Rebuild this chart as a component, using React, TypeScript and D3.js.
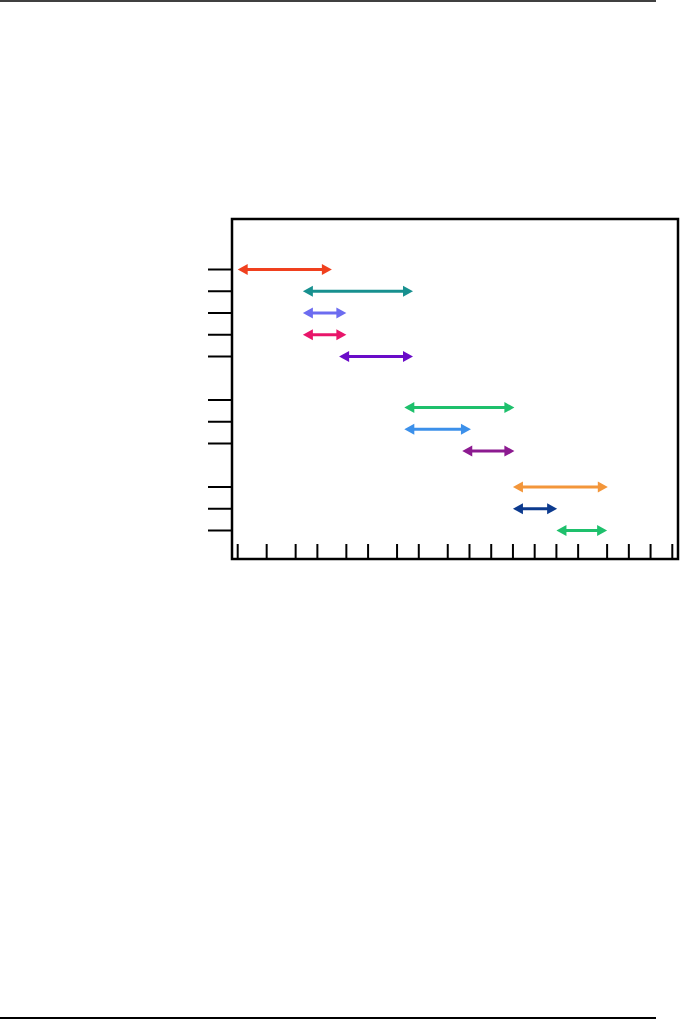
import React from "react";
import * as d3 from "d3";

// Task rows (position on the vertical axis, in row units)
const rowPosition = [0, 1, 2, 3, 4, 6.35, 7.35, 8.35, 10, 11, 12];
const startValues = [0, 9, 9, 9, 14, 23, 23, 31, 38, 38, 44];
const endValues = [13, 24.2, 15, 15, 24.2, 38.2, 32.2, 38.2, 51.1, 44.1, 51];
const arrowColors = [
  "#f0401e", "#17908f", "#6c6cf0", "#e8156a", "#6a0cc8",
  "#1ec06c", "#3c90ea", "#8c1a90", "#f3963a", "#0c3a8e", "#1ec06c",
];
// Y tick rows
const yTickRows = [0, 1, 2, 3, 4, 6, 7, 8, 10, 11, 12];
// X tick values (irregular)
const xTickValues = [0, 4, 8, 11, 15, 18, 22, 25, 29, 32, 35, 38, 41, 44, 47, 51, 54, 57, 60];

export default function App() {
  const W = 681, H = 1020;
  const box = { left: 232, top: 219, right: 678, bottom: 559 };
  const x = d3.scaleLinear().domain([0, 60]).range([237.7, 672.3]);
  const y = d3.scaleLinear().domain([0, 12]).range([269.5, 530.5]);
  const head = 10;
  const headHalf = 5.5;

  return (
    <svg
      width={W}
      height={H}
      style={{ position: "absolute", left: 0, top: 0, background: "#fff" }}
    >
      {/* page rules */}
      <line x1={0} x2={656} y1={1} y2={1} stroke="#000" strokeWidth={1.5} />
      <line x1={0} x2={656} y1={1018} y2={1018} stroke="#000" strokeWidth={2} />

      {/* frame */}
      <rect
        x={box.left}
        y={box.top}
        width={box.right - box.left}
        height={box.bottom - box.top}
        fill="none"
        stroke="#000"
        strokeWidth={2.5}
      />

      {/* y ticks */}
      {yTickRows.map((r) => (
        <line key={"yt" + r} x1={208} x2={box.left} y1={y(r)} y2={y(r)} stroke="#000" strokeWidth={2} />
      ))}

      {/* x ticks */}
      {xTickValues.map((v) => (
        <line key={"xt" + v} x1={x(v)} x2={x(v)} y1={box.bottom} y2={box.bottom - 15} stroke="#000" strokeWidth={2} />
      ))}

      {/* arrows */}
      {rowPosition.map((r, i) => {
        const x0 = x(startValues[i]);
        const x1 = x(endValues[i]);
        const yy = y(r);
        const c = arrowColors[i];
        return (
          <g key={"a" + i}>
            <line x1={x0 + head - 1} x2={x1 - head + 1} y1={yy} y2={yy} stroke={c} strokeWidth={3} />
            <path d={`M${x0},${yy} L${x0 + head},${yy - headHalf} L${x0 + head},${yy + headHalf} Z`} fill={c} />
            <path d={`M${x1},${yy} L${x1 - head},${yy - headHalf} L${x1 - head},${yy + headHalf} Z`} fill={c} />
          </g>
        );
      })}
    </svg>
  );
}
